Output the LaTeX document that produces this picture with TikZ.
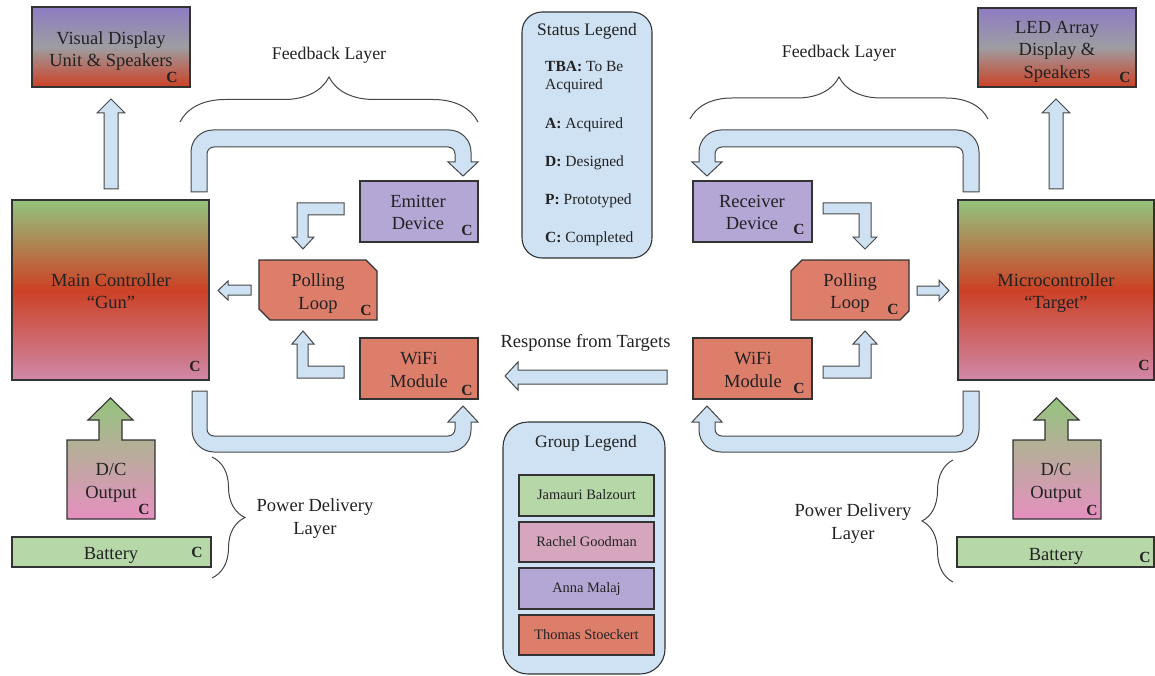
\documentclass[tikz,border=0pt]{standalone}
\usepackage{fontspec}
\setmainfont{Liberation Serif}
\usetikzlibrary{decorations.pathreplacing}

\definecolor{arrowblue}{HTML}{CFE2F3}
\definecolor{lpurple}{HTML}{B4A7D6}
\definecolor{lred}{HTML}{DD7E6B}
\definecolor{lgreen}{HTML}{B6D7A8}
\definecolor{lpink}{HTML}{D5A6BD}
\definecolor{gpurple}{HTML}{8E7CC3}
\definecolor{gred}{HTML}{CC4125}
\definecolor{ggreen}{HTML}{93C47D}
\definecolor{ggray}{HTML}{9E9DA2}
\definecolor{gpink}{HTML}{D088A8}
\definecolor{dcpink}{HTML}{E690C0}
\definecolor{edge}{HTML}{333333}
\definecolor{ink}{HTML}{222222}
\definecolor{bracegray}{HTML}{444444}

\begin{document}
\begin{tikzpicture}[x=1pt,y=-1pt,
  box/.style={draw=edge, line width=1.1pt, inner sep=0pt},
  blockarrow/.style={fill=arrowblue, draw=edge!90, line width=1pt, line join=miter},
  bigtext/.style={font=\fontsize{18.5}{22.5}\selectfont, align=center, inner sep=0pt,
    text=ink, execute at begin node=\strut, execute at end node=\strut},
  cmark/.style={font=\fontsize{15.5}{15.5}\bfseries\selectfont, inner sep=0pt, text=ink},
  legtitle/.style={font=\fontsize{17.5}{21}\selectfont, inner sep=0pt, text=ink},
  legtext/.style={font=\fontsize{15.5}{18}\selectfont, inner sep=0pt, text=ink},
  rowbox/.style={box, minimum width=135pt, font=\fontsize{14.4}{20}\selectfont, text=ink,
    execute at begin node=\strut},
  bracestyle/.style={draw=bracegray, line width=1pt, decorate},
]
\useasboundingbox (0,0) rectangle (1155,676);

% ---------- legends ----------
\node[box, fill=arrowblue, rounded corners=20pt, minimum width=130pt, minimum height=246pt] (status) at (587,135) {};
\node[legtitle, anchor=base] (stTitle) at (587,36) {Status Legend};
\node[legtext, anchor=base west] (stTBA) at (545,72) {\textbf{TBA:} To Be};
\node[legtext, anchor=base west] (stTBAb) at (545,90) {Acquired};
\node[legtext, anchor=base west] (stA) at (545,129) {\textbf{A:} Acquired};
\node[legtext, anchor=base west] (stD) at (545,167) {\textbf{D:} Designed};
\node[legtext, anchor=base west] (stP) at (545,205) {\textbf{P:} Prototyped};
\node[legtext, anchor=base west] (stC) at (545,243) {\textbf{C:} Completed};

\node[box, fill=arrowblue, rounded corners=25pt, minimum width=162pt, minimum height=252pt] (group) at (584,548) {};
\node[legtitle, anchor=base] (grTitle) at (586,447.5) {Group Legend};
\node[rowbox, fill=lgreen, minimum height=41pt] (g1) at (586.5,495.5) {Jamauri Balzourt};
\node[rowbox, fill=lpink, minimum height=40pt] (g2) at (586.5,542) {Rachel Goodman};
\node[rowbox, fill=lpurple, minimum height=41pt] (g3) at (586.5,588.5) {Anna Malaj};
\node[rowbox, fill=lred, minimum height=40pt] (g4) at (586.5,635) {Thomas Stoeckert};

% ---------- braces and layer labels ----------
\draw[bracestyle, decoration={brace, amplitude=45pt}] (180,122) -- (478,122);
\draw[bracestyle, decoration={brace, amplitude=42pt}] (690,119) -- (988,119);
\draw[bracestyle, decoration={brace, amplitude=33pt}] (212,457) -- (212,578);
\draw[bracestyle, decoration={brace, amplitude=31pt}] (953,582) -- (953,460);
\node[bigtext, font=\fontsize{17.8}{22.5}\selectfont] (fbL) at (329,55) {Feedback Layer};
\node[bigtext, font=\fontsize{17.8}{22.5}\selectfont] (fbR) at (839,53) {Feedback Layer};
\node[bigtext] (pdL) at (315,520) {Power Delivery\\Layer};
\node[bigtext] (pdR) at (853,525) {Power Delivery\\Layer};
\node[bigtext] (resp) at (585.5,342.5) {Response from Targets};

% ---------- component boxes ----------
\node[box, top color=gpurple, bottom color=gred, middle color=ggray, minimum width=158pt, minimum height=80pt] (vdu) at (111,47) {};
\node[bigtext] (vduT) at (111,52.3) {Visual Display\\Unit \& Speakers};
\node[cmark] at (172,77) {C};

\node[box, top color=gpurple, bottom color=gred, middle color=ggray, minimum width=158pt, minimum height=79pt] (led) at (1057,47.5) {};
\node[bigtext] (ledT) at (1057,53) {LED Array\\Display \&\\Speakers};
\node[cmark] at (1125,77) {C};

\node[box, top color=ggreen, bottom color=gpink, middle color=gred, minimum width=197pt, minimum height=180pt] (main) at (110.5,290) {};
\node[bigtext] (mainT) at (111,294.3) {Main Controller\\“Gun”};
\node[cmark] at (195,366) {C};

\node[box, top color=ggreen, bottom color=gpink, middle color=gred, minimum width=196pt, minimum height=180pt] (micro) at (1056,290) {};
\node[bigtext] (microT) at (1056,294.5) {Microcontroller\\“Target”};
\node[cmark] at (1144,365) {C};

\node[box, fill=lpurple, minimum width=118pt, minimum height=61pt] (emit) at (419,211.5) {};
\node[bigtext] (emitT) at (418,216) {Emitter\\Device};
\node[cmark] at (467,230) {C};

\node[box, fill=lpurple, minimum width=119pt, minimum height=61pt] (recv) at (752.5,211.5) {};
\node[bigtext] (recvT) at (752,216) {Receiver\\Device};
\node[cmark] at (799,229) {C};

\node[box, fill=lred, minimum width=118pt, minimum height=61pt] (wifiL) at (419,368.5) {};
\node[bigtext] (wifiLT) at (419,373) {WiFi\\Module};
\node[cmark] at (467,390) {C};

\node[box, fill=lred, minimum width=119pt, minimum height=61pt] (wifiR) at (752.5,368.5) {};
\node[bigtext] (wifiRT) at (753,373) {WiFi\\Module};
\node[cmark] at (799,388) {C};

% polling loops: rectangles with two snipped corners
\draw[box, fill=lred, line join=miter] (259,260) -- (366,260) -- (377,271) -- (377,320) -- (270,320) -- (259,309) -- cycle;
\node[bigtext] (pollL) at (318,295) {Polling\\Loop};
\node[cmark] at (366,310) {C};

\draw[box, fill=lred, line join=miter] (802,260) -- (909,260) -- (909,311) -- (900,320) -- (791,320) -- (791,271) -- cycle;
\node[bigtext] (pollR) at (850,294.5) {Polling\\Loop};
\node[cmark] at (893,309) {C};

% power supply: converter box with its output arrow, and batteries
\draw[box, line join=miter, top color=ggreen, bottom color=dcpink]
  (67,519) -- (67,440) -- (99,440) -- (99,420) -- (88,420) -- (110.5,398) -- (133,420)
  -- (122,420) -- (122,440) -- (155,440) -- (155,519) -- cycle;
\node[bigtext] (dcL) at (111,484) {D/C\\Output};
\node[cmark] at (144,509) {C};

\draw[box, line join=miter, top color=ggreen, bottom color=dcpink]
  (1013,519) -- (1013,440) -- (1045,440) -- (1045,420) -- (1034,420) -- (1056.5,398) -- (1079,420)
  -- (1068,420) -- (1068,440) -- (1101,440) -- (1101,519) -- cycle;
\node[bigtext] (dcR) at (1056,484) {D/C\\Output};
\node[cmark] at (1092,510) {C};

\node[box, fill=lgreen, minimum width=199pt, minimum height=30pt] (batL) at (111.5,552) {};
\node[bigtext] (batLT) at (111,555) {Battery};
\node[cmark] at (197,552) {C};

\node[box, fill=lgreen, minimum width=197pt, minimum height=30pt] (batR) at (1055.5,552) {};
\node[bigtext] (batRT) at (1056,556) {Battery};
\node[cmark] at (1145,557) {C};

% ---------- block arrows ----------
% controllers up to their displays
\draw[blockarrow] (104,189) -- (104,113) -- (97,113) -- (111,99) -- (125,113) -- (118,113) -- (118,189) -- cycle;
\draw[blockarrow] (1049,189) -- (1049,113) -- (1042,113) -- (1056,99) -- (1070,113) -- (1063,113) -- (1063,189) -- cycle;

% main controller over to the emitter
\draw[blockarrow] (191,192) -- (191,152) .. controls (191,139.9) and (200.9,130) .. (213,130)
  -- (449,130) .. controls (461.1,130) and (471,139.9) .. (471,152) -- (471,162) -- (478,162)
  -- (463,176) -- (448,162) -- (455,162) -- (455,154) .. controls (455,150.1) and (451.9,147) .. (448,147)
  -- (214,147) .. controls (210.1,147) and (207,150.1) .. (207,154) -- (207,192) -- cycle;

% microcontroller over to the receiver
\draw[blockarrow] (979,192) -- (979,152) .. controls (979,139.9) and (969.1,130) .. (957,130)
  -- (721,130) .. controls (708.9,130) and (699,139.9) .. (699,152) -- (699,162) -- (692,162)
  -- (707,176) -- (722,162) -- (715,162) -- (715,154) .. controls (715,150.1) and (718.1,147) .. (722,147)
  -- (956,147) .. controls (959.9,147) and (963,150.1) .. (963,154) -- (963,192) -- cycle;

% main controller round to its WiFi module
\draw[blockarrow] (192,391) -- (192,430) .. controls (192,442.1) and (201.9,452) .. (214,452)
  -- (449,452) .. controls (461.1,452) and (471,442.1) .. (471,430) -- (471,422) -- (478,422)
  -- (463,406) -- (448,422) -- (455,422) -- (455,429) .. controls (455,432.9) and (451.9,436) .. (448,436)
  -- (214,436) .. controls (210.1,436) and (207,432.9) .. (207,429) -- (207,391) -- cycle;

% microcontroller round to its WiFi module
\draw[blockarrow] (979,391) -- (979,430) .. controls (979,442.1) and (969.1,452) .. (957,452)
  -- (721,452) .. controls (708.9,452) and (699,442.1) .. (699,430) -- (699,422) -- (692,422)
  -- (707,406) -- (722,422) -- (715,422) -- (715,429) .. controls (715,432.9) and (718.1,436) .. (722,436)
  -- (956,436) .. controls (959.9,436) and (963,432.9) .. (963,429) -- (963,391) -- cycle;

% elbows into the polling loops
\draw[blockarrow] (344,203) -- (297,203) -- (297,237) -- (292,237) -- (303,249) -- (314,237) -- (308,237) -- (308,215) -- (344,215) -- cycle;
\draw[blockarrow] (344,378) -- (297,378) -- (297,344) -- (292,344) -- (303,331) -- (314,344) -- (308,344) -- (308,366) -- (344,366) -- cycle;
\draw[blockarrow] (823,203) -- (871,203) -- (871,237) -- (877,237) -- (865,249) -- (853,237) -- (859,237) -- (859,214) -- (823,214) -- cycle;
\draw[blockarrow] (823,378) -- (871,378) -- (871,344) -- (877,344) -- (865,331) -- (853,344) -- (859,344) -- (859,366) -- (823,366) -- cycle;

% polling loops into the controllers
\draw[blockarrow] (251,285) -- (228,285) -- (228,281) -- (218,290.5) -- (228,300) -- (228,295) -- (251,295) -- cycle;
\draw[blockarrow] (917,286) -- (939,286) -- (939,280) -- (949,290.5) -- (939,301) -- (939,295) -- (917,295) -- cycle;

% responses coming back from the targets
\draw[blockarrow] (667,370) -- (518,370) -- (518,362) -- (505,376) -- (518,390) -- (518,384) -- (667,384) -- cycle;
\end{tikzpicture}
\end{document}
